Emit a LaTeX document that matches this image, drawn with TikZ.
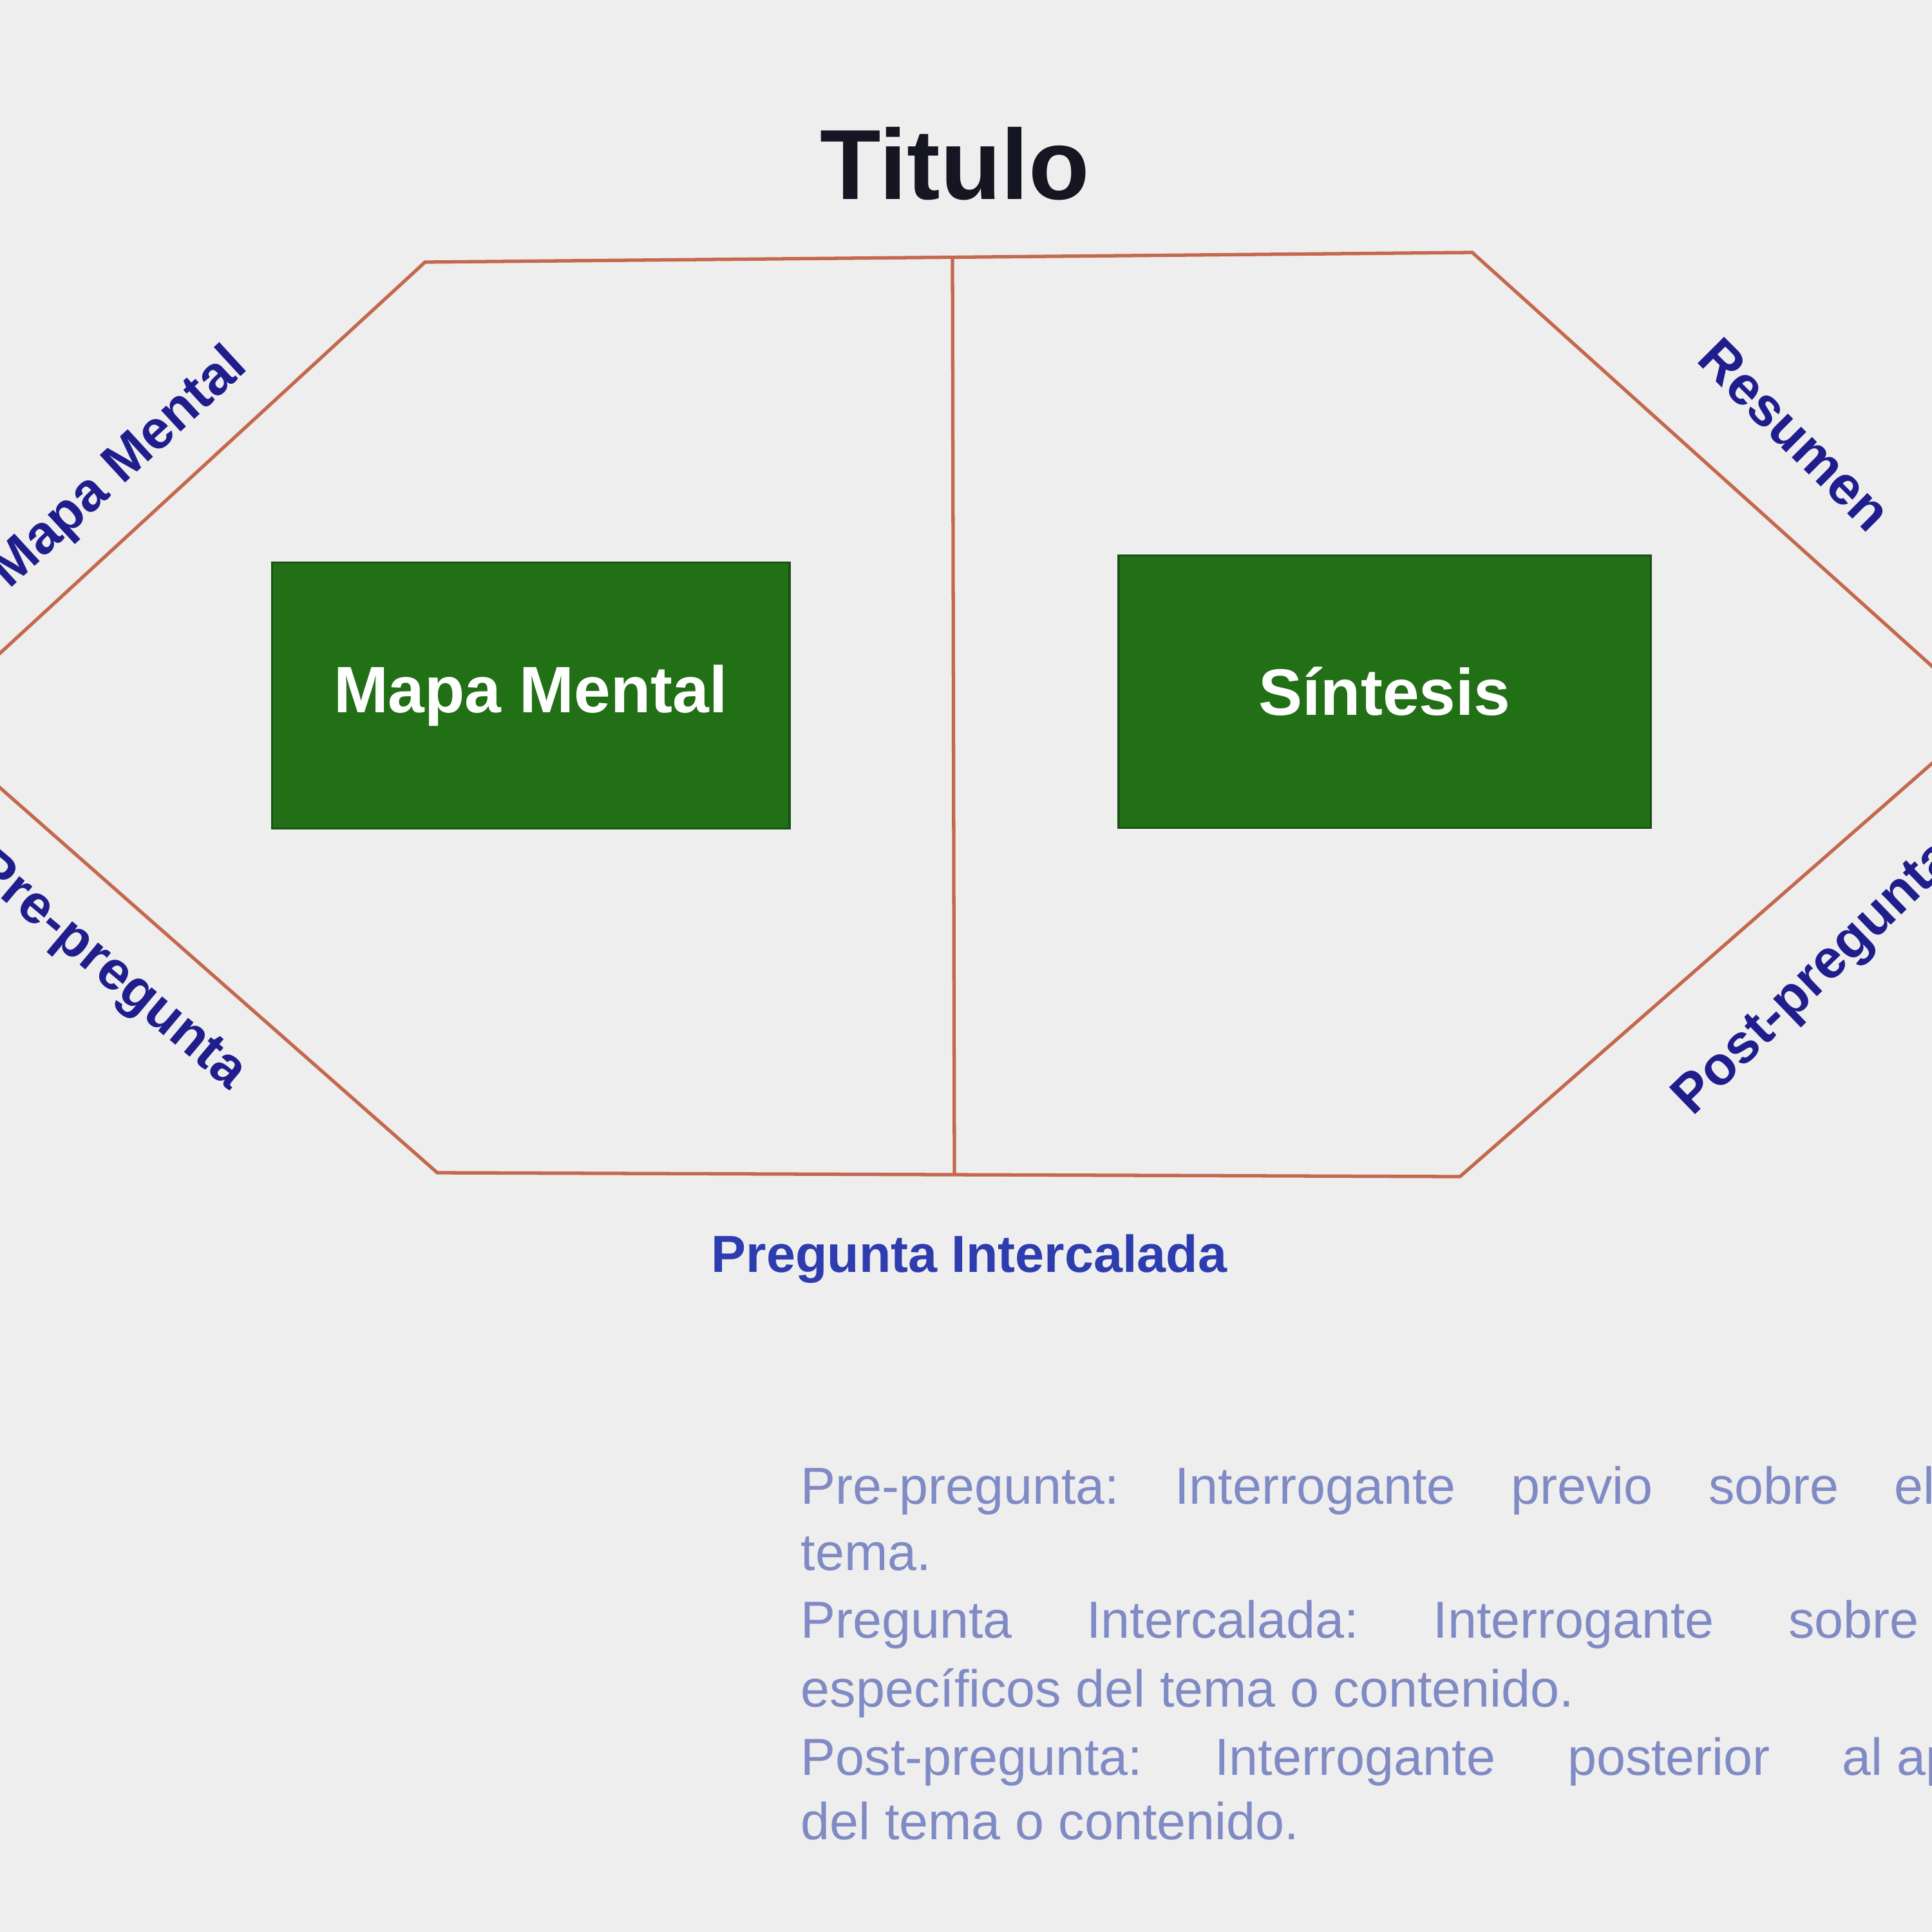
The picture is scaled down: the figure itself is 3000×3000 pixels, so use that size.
\documentclass[tikz,border=0pt]{standalone}
\usepackage{fontspec}
\setmainfont{Liberation Sans}
\definecolor{bgc}{RGB}{238,238,238}
\definecolor{edgec}{RGB}{196,104,78}
\definecolor{boxg}{RGB}{34,112,22}
\definecolor{boxgd}{RGB}{28,80,22}
\definecolor{labblue}{RGB}{32,30,140}
\definecolor{pregblue}{RGB}{45,60,175}
\definecolor{titlec}{RGB}{22,22,34}
\definecolor{notec}{RGB}{128,138,196}
\begin{document}
\frenchspacing
\begin{tikzpicture}[x=0.01cm,y=-0.01cm,
  edge/.style={draw=edgec,line width=1.5pt,line join=miter},
  greenbox/.style={draw=boxgd,line width=1pt,fill=boxg,text=white,
    font=\fontsize{29}{34}\selectfont\bfseries,inner sep=0pt},
  diaglab/.style={text=labblue,font=\fontsize{24}{29}\selectfont\bfseries,inner sep=0pt},
  note/.style={text=notec,font=\fontsize{23}{28}\selectfont,anchor=base west,inner sep=0pt}]
\useasboundingbox (0,0) rectangle (3000,3000);
\clip (0,0) rectangle (3000,3000);
\fill[bgc] (0,0) rectangle (3000,3000);

% hexagon corners
\coordinate (tl) at (660,407);
\coordinate (tr) at (2286,392);
\coordinate (rv) at (3085,1111);
\coordinate (br) at (2267,1827);
\coordinate (bl) at (679,1821);
\coordinate (lv) at (-116,1121);
\coordinate (vt) at (1479,400);
\coordinate (vb) at (1482,1824);

\draw[edge] (tl) -- (tr) -- (rv) -- (br) -- (bl) -- (lv) -- cycle;
\draw[edge] (vt) -- (vb);

% title
\node[text=titlec,font=\fontsize{44}{52}\selectfont\bfseries] (title) at (1483,254) {Titulo};

% green boxes
\node[greenbox,minimum width=8.03cm,minimum height=4.13cm] (mm) at (824,1080) {Mapa Mental};
\node[greenbox,minimum width=8.26cm,minimum height=4.23cm] (sin) at (2150,1074) {Síntesis};

% diagonal labels
\node[diaglab,rotate=42.6] (lmm) at (186,728) {Mapa Mental};
\node[diaglab,rotate=-40] (lpre) at (168,1509) {Pre-pregunta};
\node[diaglab,rotate=-45] (lres) at (2787,675) {Resumen};
\node[diaglab,rotate=44] (lpost) at (2820,1521) {Post-pregunta};

% bottom label
\node[text=pregblue,font=\fontsize{23}{28}\selectfont\bfseries] (pint) at (1505,1955) {Pregunta Intercalada};

% notes
\node[note] (n1) at (1243,2335) {\makebox[17.6cm][s]{Pre-pregunta: Interrogante previo sobre el}};
\node[note] (n2) at (1243,2438) {tema.};
\node[note] (n3) at (1243,2543) {\makebox[17.35cm][s]{Pregunta Intercalada: Interrogante sobre}};
\node[note] (n4) at (1243,2650) {específicos del tema o contenido.};
\node[note] (n5) at (1243,2756) {\makebox[16.79cm][s]{Post-pregunta: Interrogante posterior al}};
\node[note] (n5b) at (2945,2756) {aprendizaje};
\node[note] (n6) at (1243,2856) {del tema o contenido.};
\end{tikzpicture}
\end{document}
